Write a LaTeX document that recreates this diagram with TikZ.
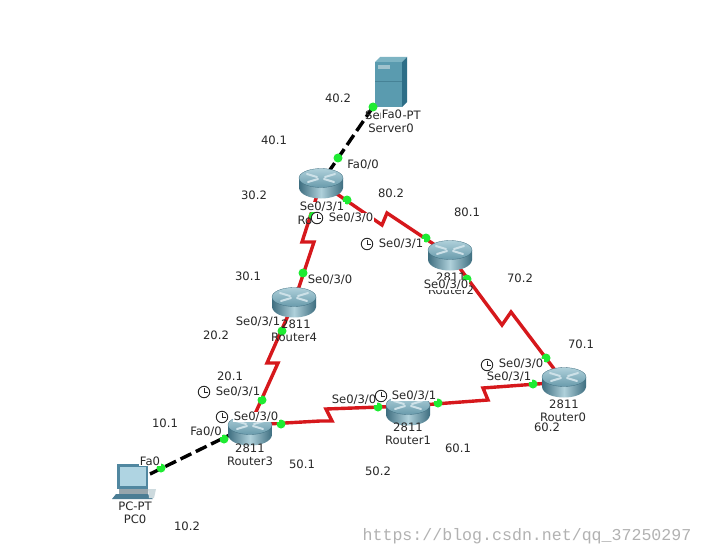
\documentclass[tikz,border=0pt]{standalone}
\usepackage{fontspec}
\setmainfont{DejaVu Sans}
\newfontfamily\wmfont{Liberation Mono}
\definecolor{linkred}{RGB}{214,24,28}
\definecolor{dotgreen}{RGB}{30,235,50}
\definecolor{txt}{RGB}{40,40,40}
\definecolor{rdark}{RGB}{62,110,128}
\definecolor{rmid}{RGB}{175,208,218}
\definecolor{rtop}{RGB}{105,155,172}
\definecolor{rarrow}{RGB}{205,225,232}
\definecolor{srvfront}{RGB}{90,155,175}
\definecolor{srvtop}{RGB}{125,180,195}
\definecolor{srvside}{RGB}{45,110,135}
\definecolor{srvslot}{RGB}{160,195,205}
\definecolor{srvline}{RGB}{70,130,150}
\definecolor{pcframe}{RGB}{80,135,160}
\definecolor{pcscreen}{RGB}{175,212,226}
\definecolor{pcbase}{RGB}{150,165,172}
\definecolor{pckeys}{RGB}{75,125,148}
\definecolor{pcmouse}{RGB}{205,218,222}
\tikzset{
  serial/.style={draw=linkred,line width=3.4pt,line join=miter},
  ethernet/.style={draw=black,line width=3.4pt,dash pattern=on 12pt off 5pt},
  portdot/.style={circle,fill=dotgreen,inner sep=0pt,minimum size=9pt},
  routerbox/.style={inner sep=0pt,minimum width=44pt,minimum height=29pt},
  lab/.style={font=\fontsize{11.6}{12}\selectfont,text=txt,inner sep=0.6pt,fill=white},
  plainlab/.style={font=\fontsize{11.6}{12}\selectfont,text=txt,inner sep=0pt},
  clockface/.style={circle,draw=txt,fill=white,line width=0.9pt,inner sep=0pt,minimum size=11.5pt}
}
\newcommand{\routericon}[3]{%
  \node[routerbox] (#1) at (#2,#3) {};
  \begin{scope}[shift={(#2,#3)}]
    \shade[left color=rdark,right color=rdark,middle color=rmid]
      (-22,-5) -- (-22,5) .. controls (-20,19) and (20,19) .. (22,5) -- (22,-5) -- cycle;
    \shade[top color=rmid,bottom color=rtop,draw=rdark,line width=0.3pt]
      (0,-5) ellipse [x radius=22,y radius=9.5];
    \draw[rarrow,line width=2pt,line cap=round]
      (-14,-9) -- (-4,-6) (14,-9) -- (4,-6) (-13,-1) -- (-3,-4) (13,-1) -- (3,-4);
  \end{scope}
}
\newcommand{\clockicon}[3]{%
  \node[clockface] (#1) at (#2,#3) {};
  \draw[txt,line width=0.9pt] (#2,#3-4) -- (#2,#3) -- (#2+3.5,#3);
}
\begin{document}
\begin{tikzpicture}[x=1pt,y=-1pt]
\useasboundingbox[fill=white] (0,0) rectangle (703,556);

% anchors
\coordinate (serverport) at (373,107);
\coordinate (pcport) at (150,474);
\coordinate (a1) at (382,225); \coordinate (a2) at (387,213);
\coordinate (b1) at (302,242); \coordinate (b2) at (314,242);
\coordinate (c1) at (267,363); \coordinate (c2) at (278,363);
\coordinate (d0) at (320,421); \coordinate (d1) at (332,421); \coordinate (d2) at (326,409);
\coordinate (e1) at (488,400); \coordinate (e2) at (483,388);
\coordinate (f1) at (502,325); \coordinate (f2) at (511,312);
\coordinate (rT) at (321,183); \coordinate (rF) at (294,302);
\coordinate (rB) at (450,255); \coordinate (rZ) at (564,382);
\coordinate (rO) at (408,406); \coordinate (rH) at (250,425);

% links
\draw[serial] (rT) -- (a1) -- (a2) -- (rB);
\draw[serial] (rT) -- (b1) -- (b2) -- (rF);
\draw[serial] (rF) -- (c1) -- (c2) -- (rH);
\draw[serial] (rH) -- (d0) -- (d1) -- (d2) -- (rO);
\draw[serial] (rO) -- (e1) -- (e2) -- (rZ);
\draw[serial] (rB) -- (f1) -- (f2) -- (rZ);
\draw[ethernet] (serverport) -- (rT);
\draw[ethernet] (pcport) -- (rH);

% routers
\routericon{router5}{321}{183}
\routericon{router4}{294}{302}
\routericon{router2}{450}{255}
\routericon{router0}{564}{382}
\routericon{router1}{408}{410}
\routericon{router3}{250}{430}

% server
\fill[srvfront] (375,62) rectangle (402,107);
\fill[srvtop] (375,62) -- (380,57) -- (407,57) -- (402,62) -- cycle;
\fill[srvside] (402,62) -- (407,57) -- (407,102) -- (402,107) -- cycle;
\fill[srvslot] (378,65) rectangle (390,69);
\draw[srvline,line width=0.5pt] (375,81) -- (402,81);

% pc
\fill[pcframe] (117,464) rectangle (148,489);
\fill[pcscreen] (120,467) rectangle (146,486);
\fill[pcbase] (119,489) rectangle (148,494);
\fill[pckeys] (116,494) -- (148,494) -- (153,499) -- (112,499) -- cycle;
\fill[pcmouse] (148,489) -- (156,489) -- (154,498) -- (149,498) -- cycle;

% ports
\node[portdot] (p1) at (373,107) {};
\node[portdot] (p2) at (338,158) {};
\node[portdot] (p3) at (347,200) {};
\node[portdot] (p4) at (313,216) {};
\node[portdot] (p5) at (426,238) {};
\node[portdot] (p6) at (467,279) {};
\node[portdot] (p7) at (303,273) {};
\node[portdot] (p8) at (282,331) {};
\node[portdot] (p9) at (262,400) {};
\node[portdot] (p10) at (281,424) {};
\node[portdot] (p11) at (224,439) {};
\node[portdot] (p12) at (161,468) {};
\node[portdot] (p13) at (378,407) {};
\node[portdot] (p14) at (438,403) {};
\node[portdot] (p15) at (533,384) {};
\node[portdot] (p16) at (546,358) {};

% device labels
\node[plainlab] (n1) at (393,115) {Server-PT};
\node[plainlab] (n2) at (391,128) {Server0};
\node[plainlab] (n3) at (305,220) {Ro};
\node[plainlab] (n4) at (296,324) {2811};
\node[plainlab] (n5) at (294,337) {Router4};
\node[plainlab] (n6) at (451,277) {2811};
\node[plainlab] (n7) at (451,290) {Router2};
\node[plainlab] (n8) at (564,404) {2811};
\node[plainlab] (n9) at (563,417) {Router0};
\node[plainlab] (n10) at (408,427) {2811};
\node[plainlab] (n11) at (408,440) {Router1};
\node[plainlab] (n12) at (250,448) {2811};
\node[plainlab] (n13) at (250,461) {Router3};
\node[plainlab] (n14) at (135,506) {PC-PT};
\node[plainlab] (n15) at (135,519) {PC0};

% port labels
\node[lab] (l1) at (392,114) {Fa0};
\node[lab] (l2) at (363,165) {Fa0/0};
\node[lab] (l3) at (322,207) {Se0/3/1};
\node[lab] (l4) at (351,218) {Se0/3/0};
\node[lab] (l5) at (401,244) {Se0/3/1};
\node[lab] (l6) at (330,280) {Se0/3/0};
\node[lab] (l7) at (446,285) {Se0/3/0};
\node[lab] (l8) at (258,322) {Se0/3/1};
\node[lab] (l9) at (238,392) {Se0/3/1};
\node[lab] (l10) at (256,417) {Se0/3/0};
\node[lab] (l11) at (206,432) {Fa0/0};
\node[lab] (l12) at (150,461) {Fa0};
\node[lab] (l13) at (354,400) {Se0/3/0};
\node[lab] (l14) at (414,396) {Se0/3/1};
\node[lab] (l15) at (521,364) {Se0/3/0};
\node[lab] (l16) at (509,377) {Se0/3/1};

% clocks
\clockicon{k1}{317}{218}
\clockicon{k2}{367}{244}
\clockicon{k3}{204}{392}
\clockicon{k4}{222}{417}
\clockicon{k5}{487}{365}
\clockicon{k6}{381}{396}

% addresses
\foreach \nm/\x/\y/\t in {i1/338/98/40.2,i2/274/140/40.1,i3/254/195/30.2,i4/391/193/80.2,
  i5/467/212/80.1,i6/520/278/70.2,i7/581/344/70.1,i8/248/276/30.1,i9/216/335/20.2,
  i10/230/376/20.1,i11/165/423/10.1,i12/187/526/10.2,i13/302/464/50.1,i14/378/471/50.2,
  i15/458/448/60.1,i16/547/427/60.2}
  \node[plainlab] (\nm) at (\x,\y) {\t};

% watermark
\node[font=\wmfont\fontsize{16.6}{18}\selectfont,text=black!30,inner sep=0pt] (wm) at (527,536) {https://blog.csdn.net/qq\_37250297};
\end{tikzpicture}
\end{document}
